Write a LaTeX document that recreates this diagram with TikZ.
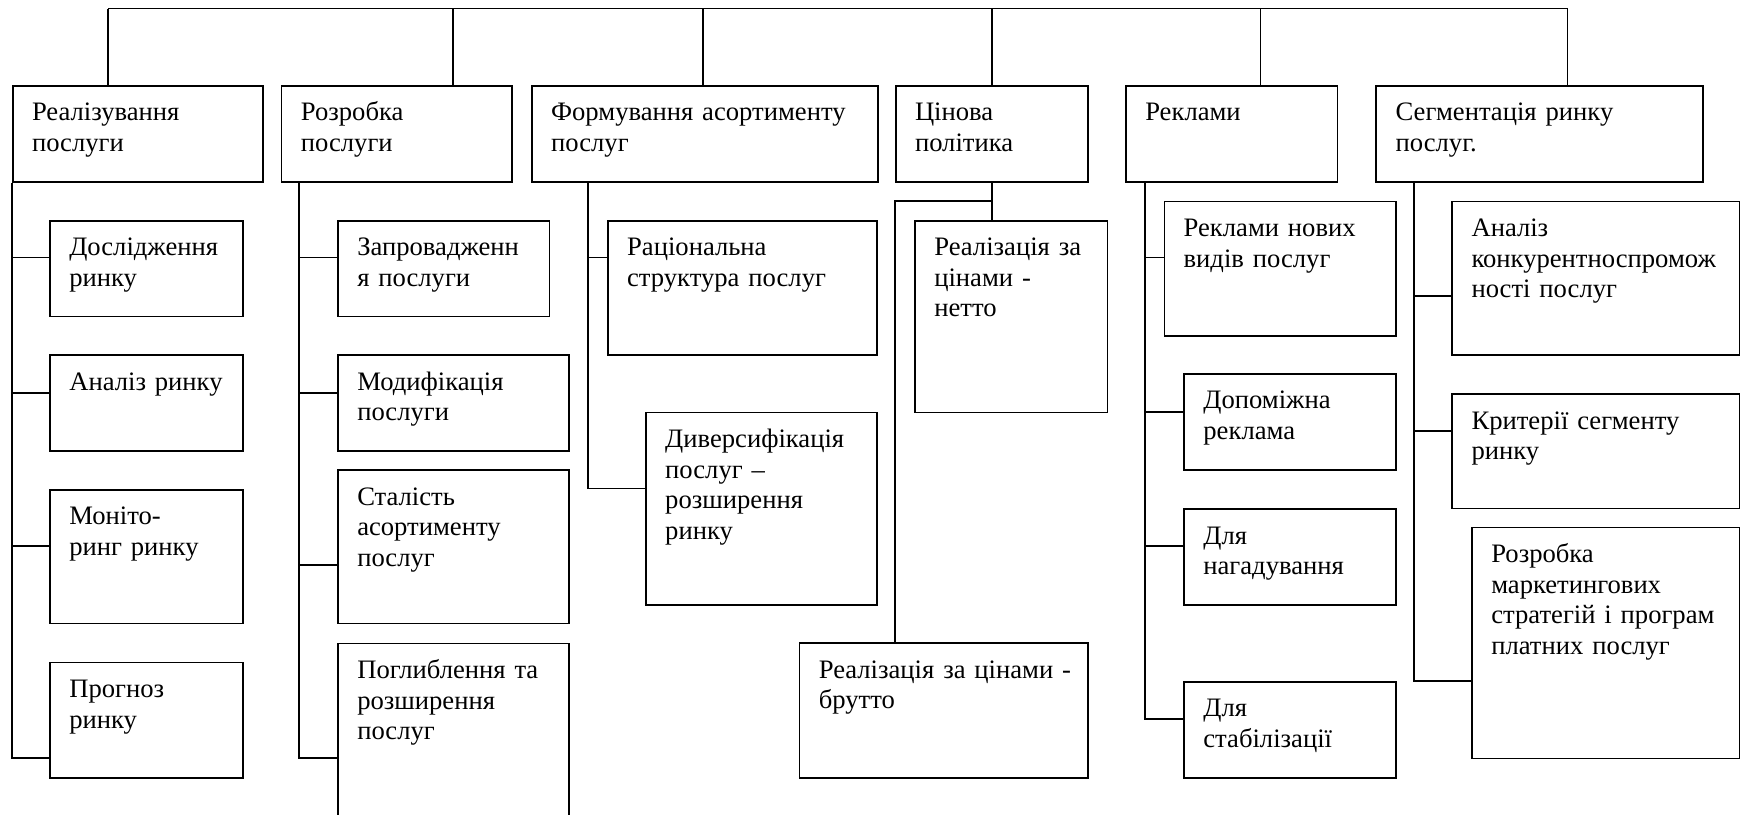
\documentclass[tikz,border=0pt]{standalone}
\usepackage{fontspec}
\setmainfont{Liberation Serif}
\usetikzlibrary{positioning,calc}
\tikzset{cell/.style 2 args={draw, line width=0.75pt, anchor=north west,
    inner xsep=8.7pt, inner ysep=0pt, align=left,
    text width={#1*0.5pt-17.4pt}, text height=15.75pt, text depth={#2*0.5pt-15.75pt}}}
\tikzstyle{link} = [line width=0.75pt]

\begin{document}
\begin{tikzpicture}[x=0.5pt, y=-0.5pt, font=\fontsize{12}{13.8}\selectfont]
	\useasboundingbox (0,0) rectangle (1568,734);

	\node[cell={225.5}{86.4}] (real) at (10.7,76.6) {Реалізування\\послуги};
	\node[cell={207.5}{86.4}] (dev) at (253,76.6) {Розробка\\послуги};
	\node[cell={311.8}{86.4}] (range) at (478.5,76.6) {Формування асортименту\\послуг};
	\node[cell={173.4}{86.4}] (price) at (806.4,76.6) {Цінова\\політика};
	\node[cell={190.7}{86.4}] (adv) at (1013.9,76.6) {Реклами};
	\node[cell={294.1}{86.4}] (segm) at (1239.5,76.6) {Сегментація ринку\\послуг.};

	\node[cell={173.8}{86.2}] (res) at (44.3,198.2) {Дослідження\\ринку};
	\node[cell={173.8}{86.3}] (anl) at (44.3,319.2) {Аналіз ринку};
	\node[cell={173.8}{120.6}] (mon) at (44.3,440.6) {Моніто-\\ринг ринку};
	\node[cell={173.8}{103.8}] (prog) at (44.3,596.3) {Прогноз\\ринку};

	\node[cell={190.7}{86.2}] (intro) at (303.8,198.2) {Запровадженн\\я послуги};
	\node[cell={208.2}{86.3}] (modif) at (303.8,319.2) {Модифікація\\послуги};
	\node[cell={208.2}{138.2}] (const) at (303.8,422.9) {Сталість\\асортименту\\послуг};
	\node[cell={208.2}{220}] (deep) at (303.8,579.2) {Поглиблення та\\розширення\\послуг};

	\node[cell={242.7}{120.7}] (rat) at (547,198.2) {Раціональна\\структура послуг};
	\node[cell={208.4}{173.3}] (div) at (581.3,371) {Диверсифікація\\послуг –\\розширення\\ринку};

	\node[cell={173.4}{172.8}] (net) at (823.8,198.2) {Реалізація за\\цінами -\\нетто};
	\node[cell={260.1}{121.3}] (gross) at (719.7,578.8) {\mbox{Реалізація за цінами -}\\брутто};

	\node[cell={208.5}{121}] (newadv) at (1048.5,180.8) {Реклами нових\\видів послуг};
	\node[cell={190.7}{86.7}] (aux) at (1066.3,336.3) {Допоміжна\\реклама};
	\node[cell={190.7}{86.3}] (remind) at (1066.3,458) {Для\\нагадування};
	\node[cell={190.7}{86.4}] (stab) at (1066.3,613.7) {Для\\стабілізації};

	\node[cell={259.4}{138.1}] (compet) at (1307.9,180.8) {Аналіз\\конкурентноспромож\\ності послуг};
	\node[cell={259.4}{103.1}] (crit) at (1307.9,354.4) {Критерії сегменту\\ринку};
	\node[cell={241.6}{208.2}] (strat) at (1325.7,474.6) {Розробка\\маркетингових\\стратегій і програм\\платних послуг};

	\coordinate (t1) at (97.4,7.7);
	\coordinate (t2) at (408.2,7.7);
	\coordinate (t3) at (633.7,7.7);
	\coordinate (t5) at (1135.8,7.7);
	\coordinate (t6) at (1412.6,7.7);
	\draw[link] (t1) -- (t6);
	\draw[link] (t1) -- (t1 |- real.north);
	\draw[link] (t2) -- (t2 |- dev.north);
	\draw[link] (t3) -- (t3 |- range.north);
	\draw[link] (price.north |- t1) -- (price.north);
	\draw[link] (t5) -- (t5 |- adv.north);
	\draw[link] (t6) -- (t6 |- segm.north);

	\coordinate (a1) at (10.7,232.1);
	\coordinate (a2) at (10.7,354.3);
	\coordinate (a3) at (10.7,492);
	\coordinate (a4) at (10.7,682.8);
	\draw[link] (real.south west) -- (a4) -- (a4 -| prog.west);
	\draw[link] (a1) -- (a1 -| res.west);
	\draw[link] (a2) -- (a2 -| anl.west);
	\draw[link] (a3) -- (a3 -| mon.west);

	\coordinate (b1) at (269.4,232.1);
	\coordinate (b2) at (269.4,354.3);
	\coordinate (b3) at (269.4,509.1);
	\coordinate (b4) at (269.4,682.8);
	\draw[link] (b4 |- dev.south) -- (b4) -- (b4 -| deep.west);
	\draw[link] (b1) -- (b1 -| intro.west);
	\draw[link] (b2) -- (b2 -| modif.west);
	\draw[link] (b3) -- (b3 -| const.west);

	\coordinate (c1) at (529.6,232.1);
	\coordinate (c2) at (529.6,440.1);
	\draw[link] (c2 |- range.south) -- (c2) -- (c2 -| div.west);
	\draw[link] (c1) -- (c1 -| rat.west);

	\coordinate (pj) at (893.1,181);
	\draw[link] (price.south) -- (price.south |- net.north);
	\draw[link] (pj) -| (price.south west |- gross.north);

	\coordinate (e1) at (1031.7,232.1);
	\coordinate (e2) at (1031.7,371);
	\coordinate (e3) at (1031.7,492);
	\coordinate (e4) at (1031.7,648);
	\draw[link] (e4 |- adv.south) -- (e4) -- (e4 -| stab.west);
	\draw[link] (e1) -- (e1 -| newadv.west);
	\draw[link] (e2) -- (e2 -| aux.west);
	\draw[link] (e3) -- (e3 -| remind.west);

	\coordinate (f1) at (1274,266.7);
	\coordinate (f2) at (1274,388.4);
	\coordinate (f3) at (1274,613.7);
	\draw[link] (f3 |- segm.south) -- (f3) -- (f3 -| strat.west);
	\draw[link] (f1) -- (f1 -| compet.west);
	\draw[link] (f2) -- (f2 -| crit.west);
\end{tikzpicture}
\end{document}
